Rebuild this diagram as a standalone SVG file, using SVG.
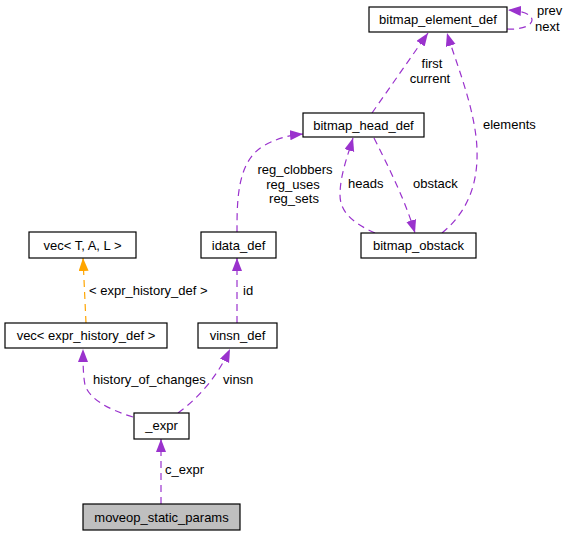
<svg xmlns="http://www.w3.org/2000/svg" width="567" height="536" viewBox="0 0 567 536">
<style>
text{font-family:"Liberation Sans",Arial,sans-serif;font-size:13px;fill:#000}
.n rect{fill:#fff;stroke:#000;stroke-width:1.2}
.n text{text-anchor:middle}
.e path{fill:none;stroke:#9a32cd;stroke-width:1.2;stroke-dasharray:7,5}
.e path.o{stroke:#ffa500}
.m{text-anchor:middle}
</style>
<defs>
<marker id="ap" markerUnits="userSpaceOnUse" markerWidth="14" markerHeight="11" refX="13" refY="5" orient="auto"><path d="M0,0 L13,5 L0,10 z" fill="#9a32cd"/></marker>
<marker id="ao" markerUnits="userSpaceOnUse" markerWidth="14" markerHeight="11" refX="13" refY="5" orient="auto"><path d="M0,0 L13,5 L0,10 z" fill="#ffa500"/></marker>
</defs>
<rect width="567" height="536" fill="#fff"/>
<g id="edges" class="e">
<path marker-end="url(#ap)" d="M507,29 C520,30 532,26 532,20 C532,14 522,11 508,10"/>
<path marker-end="url(#ap)" d="M372,113 L428,33"/>
<path marker-end="url(#ap)" d="M442,233 C470,210 478,180 477,150 C476,110 455,60 447,33"/>
<path marker-end="url(#ap)" d="M375,233 C350,222 340,210 340,195 C340,175 348,155 353,138"/>
<path marker-end="url(#ap)" d="M374,138 C390,170 405,200 415,233"/>
<path marker-end="url(#ap)" d="M237,232 C237,200 237,160 265,145 C280,137 292,135 303,134"/>
<path class="o" marker-end="url(#ao)" d="M86,323 L83,258"/>
<path marker-end="url(#ap)" d="M237,323 L237,258"/>
<path marker-end="url(#ap)" d="M133,417 C110,410 90,400 85,385 C83,375 83,360 83,349"/>
<path marker-end="url(#ap)" d="M178,413 C200,397 218,375 230,349"/>
<path marker-end="url(#ap)" d="M161,504 L161,439"/>
</g>
<g id="edge-labels">
<text x="537" y="15">prev</text>
<text x="535" y="31">next</text>
<text class="m" x="432" y="68">first</text>
<text class="m" x="430" y="83">current</text>
<text x="483" y="129">elements</text>
<text x="348" y="188">heads</text>
<text x="413" y="188">obstack</text>
<text class="m" x="295" y="174">reg_clobbers</text>
<text class="m" x="293" y="189">reg_uses</text>
<text class="m" x="294" y="203">reg_sets</text>
<text x="89" y="295">&lt; expr_history_def &gt;</text>
<text x="243" y="295">id</text>
<text x="93" y="384">history_of_changes</text>
<text x="223" y="384">vinsn</text>
<text x="165" y="474">c_expr</text>
</g>
<g id="bitmap_element_def" class="n"><rect x="369" y="7" width="138" height="25"/><text x="438" y="24">bitmap_element_def</text></g>
<g id="bitmap_head_def" class="n"><rect x="303" y="113" width="121" height="24"/><text x="363.5" y="130">bitmap_head_def</text></g>
<g id="bitmap_obstack" class="n"><rect x="361" y="233" width="115" height="25"/><text x="418.5" y="250">bitmap_obstack</text></g>
<g id="vec_TAL" class="n"><rect x="29" y="232" width="107" height="26"/><text x="82.5" y="249.5">vec&lt; T, A, L &gt;</text></g>
<g id="idata_def" class="n"><rect x="201" y="232" width="75" height="26"/><text x="238.5" y="249.5">idata_def</text></g>
<g id="vec_expr_history_def" class="n"><rect x="5" y="323" width="162" height="25"/><text x="86" y="340">vec&lt; expr_history_def &gt;</text></g>
<g id="vinsn_def" class="n"><rect x="198" y="323" width="79" height="25"/><text x="237.5" y="340">vinsn_def</text></g>
<g id="_expr" class="n"><rect x="134" y="413" width="55" height="26"/><text x="161.5" y="430">_expr</text></g>
<g id="moveop_static_params" class="n"><rect x="83" y="504" width="157" height="26" style="fill:#bfbfbf"/><text x="161.5" y="521.5">moveop_static_params</text></g>
</svg>
